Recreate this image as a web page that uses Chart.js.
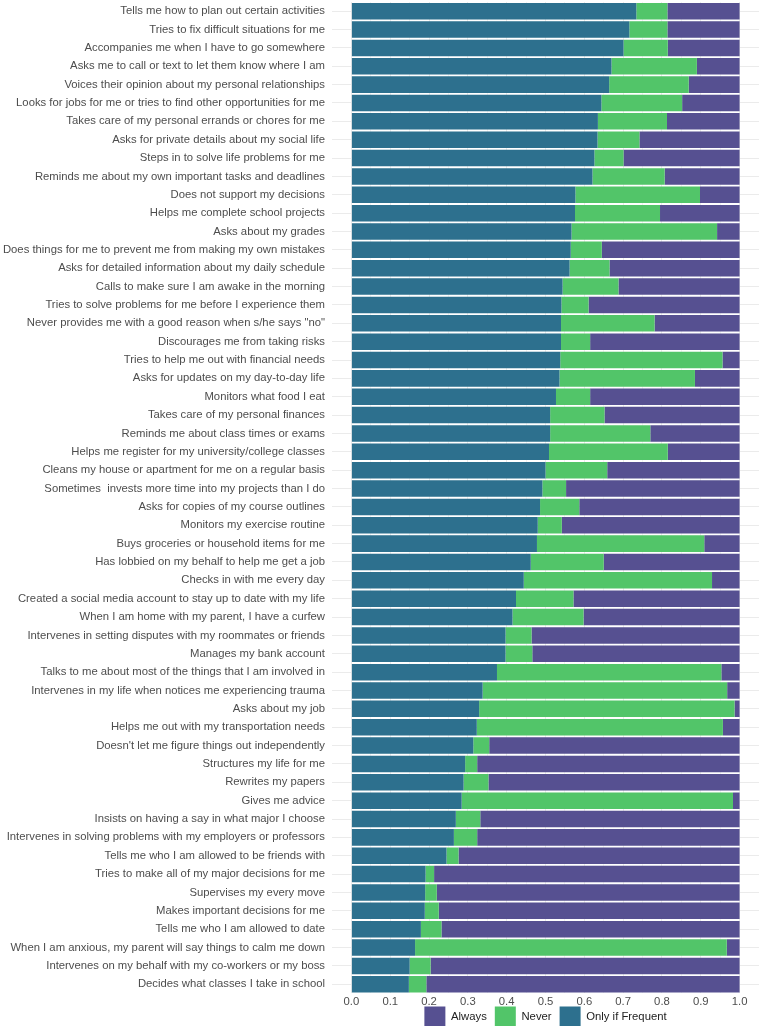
<!DOCTYPE html>
<html>
<head>
<meta charset="utf-8">
<script src="https://cdn.jsdelivr.net/npm/chart.js@4"></script>
<style>
    html, body { margin: 0; padding: 0; background: #fff; overflow: hidden; }
    #wrap { position: relative; width: 760px; height: 1050px; }
</style>
</head>
<body>
<div id="wrap"><canvas id="chart"></canvas></div>
<script>
// Behaviours, top to bottom
const categories = [
    'Tells me how to plan out certain activities',
    'Tries to fix difficult situations for me',
    'Accompanies me when I have to go somewhere',
    'Asks me to call or text to let them know where I am',
    'Voices their opinion about my personal relationships',
    'Looks for jobs for me or tries to find other opportunities for me',
    'Takes care of my personal errands or chores for me',
    'Asks for private details about my social life',
    'Steps in to solve life problems for me',
    'Reminds me about my own important tasks and deadlines',
    'Does not support my decisions',
    'Helps me complete school projects',
    'Asks about my grades',
    'Does things for me to prevent me from making my own mistakes',
    'Asks for detailed information about my daily schedule',
    'Calls to make sure I am awake in the morning',
    'Tries to solve problems for me before I experience them',
    'Never provides me with a good reason when s/he says "no"',
    'Discourages me from taking risks',
    'Tries to help me out with financial needs',
    'Asks for updates on my day-to-day life',
    'Monitors what food I eat',
    'Takes care of my personal finances',
    'Reminds me about class times or exams',
    'Helps me register for my university/college classes',
    'Cleans my house or apartment for me on a regular basis',
    'Sometimes  invests more time into my projects than I do',
    'Asks for copies of my course outlines',
    'Monitors my exercise routine',
    'Buys groceries or household items for me',
    'Has lobbied on my behalf to help me get a job',
    'Checks in with me every day',
    'Created a social media account to stay up to date with my life',
    'When I am home with my parent, I have a curfew',
    'Intervenes in setting disputes with my roommates or friends',
    'Manages my bank account',
    'Talks to me about most of the things that I am involved in',
    'Intervenes in my life when notices me experiencing trauma',
    'Asks about my job',
    'Helps me out with my transportation needs',
    'Doesn\'t let me figure things out independently',
    'Structures my life for me',
    'Rewrites my papers',
    'Gives me advice',
    'Insists on having a say in what major I choose',
    'Intervenes in solving problems with my employers or professors',
    'Tells me who I am allowed to be friends with',
    'Tries to make all of my major decisions for me',
    'Supervises my every move',
    'Makes important decisions for me',
    'Tells me who I am allowed to date',
    'When I am anxious, my parent will say things to calm me down',
    'Intervenes on my behalf with my co-workers or my boss',
    'Decides what classes I take in school'
];

const onlyIfFrequent = [
    0.734, 0.716, 0.701, 0.670, 0.664, 0.644, 0.635, 0.634, 0.626, 0.621,
    0.577, 0.576, 0.567, 0.565, 0.562, 0.544, 0.541, 0.540, 0.540, 0.538,
    0.536, 0.527, 0.512, 0.512, 0.509, 0.500, 0.492, 0.486, 0.480, 0.478,
    0.462, 0.444, 0.424, 0.415, 0.397, 0.397, 0.375, 0.338, 0.329, 0.323,
    0.314, 0.293, 0.289, 0.284, 0.269, 0.264, 0.245, 0.191, 0.190, 0.189,
    0.179, 0.164, 0.150, 0.148
];

const never = [
    0.080, 0.098, 0.114, 0.220, 0.205, 0.208, 0.178, 0.108, 0.075, 0.186,
    0.321, 0.219, 0.375, 0.080, 0.103, 0.144, 0.070, 0.241, 0.075, 0.418,
    0.349, 0.088, 0.140, 0.258, 0.306, 0.159, 0.061, 0.101, 0.062, 0.431,
    0.188, 0.485, 0.148, 0.183, 0.067, 0.069, 0.578, 0.630, 0.658, 0.634,
    0.041, 0.031, 0.064, 0.699, 0.063, 0.060, 0.031, 0.022, 0.030, 0.036,
    0.053, 0.803, 0.054, 0.045
];

const always = [
    0.186, 0.186, 0.185, 0.110, 0.131, 0.148, 0.187, 0.258, 0.299, 0.193,
    0.102, 0.205, 0.058, 0.355, 0.335, 0.312, 0.389, 0.219, 0.385, 0.044,
    0.115, 0.385, 0.348, 0.230, 0.185, 0.341, 0.447, 0.413, 0.458, 0.091,
    0.350, 0.071, 0.428, 0.402, 0.536, 0.534, 0.047, 0.032, 0.013, 0.043,
    0.645, 0.676, 0.647, 0.017, 0.668, 0.676, 0.724, 0.787, 0.780, 0.775,
    0.768, 0.033, 0.796, 0.807
];

const xTickLabels = ['0.0', '0.1', '0.2', '0.3', '0.4', '0.5', '0.6', '0.7', '0.8', '0.9', '1.0'];

const colors = {
    frequent: 'rgb(45, 112, 142)',
    never: 'rgb(82, 197, 105)',
    always: 'rgb(86, 80, 145)',
    text: '#4d4d4d',
    grid: '#ebebeb',
    gridMinor: '#f3f3f3'
};

const font = { family: '"Liberation Sans", Arial, sans-serif', size: 11.3 };

// major breaks from the labels, minor breaks halfway between
const majorBreaks = xTickLabels.map(Number);
const gridBreaks = [];
majorBreaks.forEach((v, i) => {
    gridBreaks.push(v);
    if (i < majorBreaks.length - 1) gridBreaks.push((v + majorBreaks[i + 1]) / 2);
});

function barSet(label, data, color) {
    return {
        label: label,
        data: data,
        backgroundColor: color,
        borderWidth: 0,
        barPercentage: 0.9,
        categoryPercentage: 1.0
    };
}

// pull the legend up close under the tick labels, like the ggplot original
const legendNudge = {
    id: 'legendNudge',
    afterLayout(chart) {
        const lg = chart.legend;
        if (!lg) return;
        const target = chart.chartArea.bottom + 13 - lg.options.labels.padding;
        const shift = lg.top - target;
        lg.top -= shift;
        lg.bottom -= shift;
    }
};

new Chart(document.getElementById('chart'), {
    type: 'bar',
    data: {
        labels: categories,
        datasets: [
            barSet('Only if Frequent', onlyIfFrequent, colors.frequent),
            barSet('Never', never, colors.never),
            barSet('Always', always, colors.always)
        ]
    },
    plugins: [legendNudge],
    options: {
        indexAxis: 'y',
        responsive: true,
        maintainAspectRatio: false,
        animation: false,
        layout: { padding: { top: 2, right: 1, left: 0, bottom: 0 } },
        plugins: {
            tooltip: { enabled: false },
            legend: {
                position: 'bottom',
                fullSize: false,
                labels: {
                    boxWidth: 21,
                    boxHeight: 21,
                    padding: 8,
                    color: '#222',
                    font: font,
                    sort: (a, b) => b.datasetIndex - a.datasetIndex
                }
            }
        },
        scales: {
            x: {
                type: 'linear',
                stacked: true,
                min: -0.05,
                max: 1.05,
                afterBuildTicks: scale => {
                    scale.ticks = gridBreaks.map(v => ({ value: v }));
                },
                border: { display: false },
                grid: {
                    drawTicks: false,
                    color: ctx => {
                        const v = ctx.tick ? ctx.tick.value : 0;
                        return Math.abs(v * 10 - Math.round(v * 10)) < 1e-6 ? colors.grid : colors.gridMinor;
                    },
                    lineWidth: 1
                },
                ticks: {
                    autoSkip: false,
                    maxRotation: 0,
                    padding: 2,
                    color: colors.text,
                    font: font,
                    callback: (v, i) => (i % 2 === 0 ? xTickLabels[i / 2] : '')
                }
            },
            y: {
                stacked: true,
                offset: true,
                afterFit: scale => {
                    scale.width = 332;
                    scale.paddingTop = 0;
                    scale.paddingBottom = 0;
                },
                border: { display: false },
                grid: { offset: false, drawTicks: false, color: colors.grid },
                ticks: {
                    autoSkip: false,
                    padding: 7,
                    color: colors.text,
                    font: font
                }
            }
        }
    }
});
</script>
</body>
</html>
